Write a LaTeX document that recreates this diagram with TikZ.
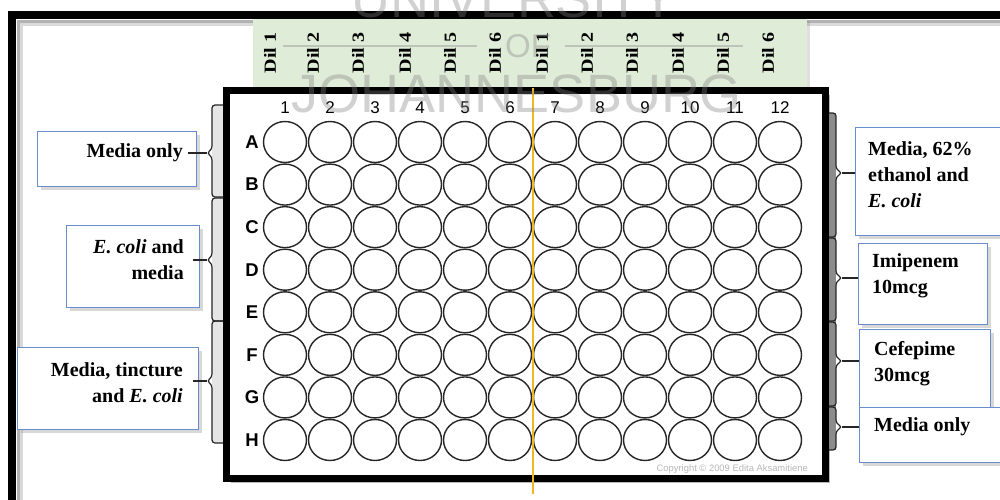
\documentclass[tikz,border=0pt]{standalone}
\usepackage{fontspec}
\setmainfont{Liberation Serif}
\newfontfamily\arialf{Liberation Sans}
\usetikzlibrary{shadows,shapes.geometric}
\definecolor{boxblue}{RGB}{105,140,205}
\definecolor{dilgreen}{RGB}{223,237,216}
\definecolor{plateorange}{RGB}{240,182,40}
\begin{document}
\begin{tikzpicture}[x=1pt,y=-1pt,
  infobox/.style={draw=boxblue, line width=1.3pt, fill=white, inner sep=0pt,
    drop shadow={shadow xshift=3pt, shadow yshift=-3pt, opacity=0.3}},
  boxtext/.style={font=\fontsize{20}{26}\selectfont\bfseries, inner sep=0pt},
  well/.style={draw=black!85, line width=1.4pt, ellipse, minimum width=43pt, minimum height=41pt, inner sep=0pt},
  dil/.style={font=\fontsize{17}{17}\selectfont\bfseries, rotate=90, inner sep=0pt},
  colnum/.style={font=\arialf\fontsize{17}{17}\selectfont, inner sep=0pt},
  rowlet/.style={font=\arialf\fontsize{18.5}{18.5}\selectfont\bfseries, inner sep=0pt},
  conn/.style={draw=black!85, line width=1.2pt},
  bracestyle/.style={draw=black!85, line width=1.2pt, rounded corners=3pt},
  wmark/.style={text=black!50, opacity=0.36, inner sep=0pt}
]
\clip (0,0) rectangle (1000,499);
\fill[white] (0,0) rectangle (1000,499);

% outer frame with inner shadow
\draw[black!30, line width=3pt] (1010,21) -- (18,21) -- (18,510);
\draw[black!15, line width=3pt] (1010,24) -- (21,24) -- (21,510);
\draw[black, line width=8pt] (1010,15) -- (11.5,15) -- (11.5,510);

% green dilution panel
\fill[dilgreen, drop shadow={shadow xshift=3pt, shadow yshift=-2pt, opacity=0.25}] (253,19) rectangle (807,87);
\foreach \x/\n [count=\k] in {270/1,313/2,358/3,405/4,450/5,495/6,542/1,587/2,632/3,678/4,723/5,768/6}{
  \node[dil] (dil\k) at (\x,53) {\scalebox{1.18}[1]{Dil \n}};
}

% brace backgrounds
\fill[black!10] (212,105) rectangle (224,197);
\fill[black!10] (212,198) rectangle (224,321);
\fill[black!10] (212,321) rectangle (224,443);
\fill[black!45] (826,113) rectangle (836,450);

% plate
\draw[black, line width=7pt, fill=white,
  drop shadow={shadow xshift=4pt, shadow yshift=-4pt, opacity=0.55}] (226.5,90.5) rectangle (825.5,478.5);

% column numbers, row letters, wells
\foreach \i in {1,...,12}{
  \node[colnum] (c\i) at ({285+45*(\i-1)},108) {\i};
}
\foreach \l [count=\j from 0] in {A,B,C,D,E,F,G,H}{
  \node[rowlet] (r\l) at (252,{142+42.57*\j}) {\l};
  \foreach \i in {1,...,12}{
    \node[well] (w\l\i) at ({285+45*(\i-1)},{142+42.57*\j}) {};
  }
}
\node[anchor=east, font=\arialf\fontsize{9.4}{10}\selectfont, text=black!28, inner sep=0pt] (copy) at (808,469) {Copyright © 2009 Edita Aksamitiene};

% orange divider
\coordinate (divtop) at (533,88);
\coordinate (divbot) at (533,494);
\draw[plateorange, line width=2pt] (divtop) -- (divbot);

% left braces
\coordinate (bL1) at (207,153);
\coordinate (bL2) at (207,260);
\coordinate (bL3) at (207,381);
\draw[bracestyle] (223,105) -- (212,105) -- (212,149) -- (bL1) -- (212,157) -- (212,197) -- (223,197);
\draw[bracestyle] (223,198) -- (212,198) -- (212,256) -- (bL2) -- (212,264) -- (212,321) -- (223,321);
\draw[bracestyle] (223,321) -- (212,321) -- (212,377) -- (bL3) -- (212,385) -- (212,443) -- (223,443);

% right braces
\coordinate (bR1) at (842,173);
\coordinate (bR2) at (842,278);
\coordinate (bR3) at (842,361);
\coordinate (bR4) at (842,427);
\draw[bracestyle] (829,113) -- (836,113) -- (836,169) -- (bR1) -- (836,177) -- (836,237) -- (829,237);
\draw[bracestyle] (829,238) -- (836,238) -- (836,274) -- (bR2) -- (836,282) -- (836,321) -- (829,321);
\draw[bracestyle] (829,322) -- (836,322) -- (836,357) -- (bR3) -- (836,365) -- (836,406) -- (829,406);
\draw[bracestyle] (829,407) -- (836,407) -- (836,423) -- (bR4) -- (836,431) -- (836,450) -- (829,450);

% left boxes
\node[infobox, anchor=north west, minimum width=159pt, minimum height=55pt] (L1) at (37,131) {};
\node[boxtext, anchor=east] (L1t) at (183,153) {Media only};
\node[infobox, anchor=north west, minimum width=133pt, minimum height=82pt] (L2) at (66,225) {};
\node[boxtext, anchor=east, align=right] (L2t) at (184,259.5) {\textit{E. coli} and\\media};
\node[infobox, anchor=north west, minimum width=181pt, minimum height=82pt] (L3) at (17,347) {};
\node[boxtext, anchor=east, align=right] (L3t) at (183,382.5) {Media, tincture\\and \textit{E. coli}};
\draw[conn] ([xshift=5pt]L1t.east |- bL1) -- (bL1);
\draw[conn] ([xshift=9pt]L2t.east |- bL2) -- (bL2);
\draw[conn] ([xshift=10pt]L3t.east |- bL3) -- (bL3);

% right boxes
\node[infobox, anchor=north west, minimum width=170pt, minimum height=108pt] (R1) at (855,127) {};
\node[boxtext, anchor=west, align=left] (R1t) at (868,175) {Media, 62\%\\ethanol and\\\textit{E. coli}};
\node[infobox, anchor=north west, minimum width=129pt, minimum height=81pt] (R2) at (858,243) {};
\node[boxtext, anchor=west, align=left] (R2t) at (872,275.5) {Imipenem\\10mcg};
\node[infobox, anchor=north west, minimum width=131pt, minimum height=78pt] (R3) at (859,329) {};
\node[boxtext, anchor=west, align=left] (R3t) at (874,363.5) {Cefepime\\30mcg};
\node[infobox, anchor=north west, minimum width=170pt, minimum height=55pt] (R4) at (859,407) {};
\node[boxtext, anchor=west] (R4t) at (874,427) {Media only};
\draw[conn] (bR1) -- (R1.west |- bR1);
\draw[conn] (bR2) -- (R2.west |- bR2);
\draw[conn] (bR3) -- (R3.west |- bR3);
\draw[conn] (bR4) -- (R4.west |- bR4);

% watermark
\node[wmark, anchor=base, font=\arialf\fontsize{54}{54}\selectfont] (wm1) at (514,17) {UNIVERSITY};
\node[wmark, anchor=base, font=\arialf\fontsize{33}{33}\selectfont] (wm2) at (528,57) {OF};
\draw[black!50, opacity=0.36, line width=2pt] (283,46) -- ([xshift=-28pt]wm2.west |- 0,46);
\draw[black!50, opacity=0.36, line width=2pt] ([xshift=14pt]wm2.east |- 0,46) -- (743,46);
\node[wmark, anchor=base, font=\arialf\fontsize{54}{54}\selectfont] (wm3) at (517,112) {JOHANNESBURG};
\end{tikzpicture}
\end{document}
